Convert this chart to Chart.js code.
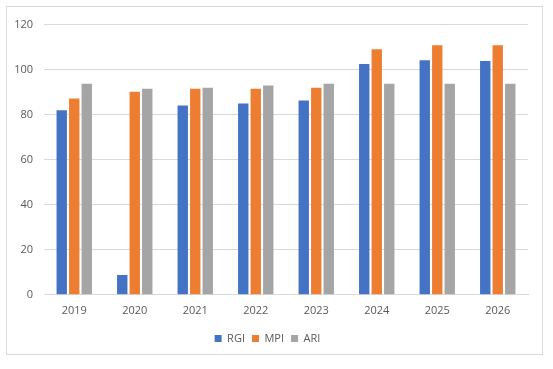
<!DOCTYPE html>
<html lang="en">
<head>
    <meta charset="UTF-8">
    <title>RGI / MPI / ARI</title>
    <script src="https://cdn.jsdelivr.net/npm/chart.js"></script>
    <style>
        html, body { margin: 0; padding: 0; background: #fff; }
        .frame {
            position: absolute;
            left: 6px; top: 6px;
            width: 535px; height: 347px;
            border: 1px solid #d9d9d9;
        }
    </style>
</head>
<body>
    <div class="frame">
        <canvas id="chart" width="535" height="347"></canvas>
    </div>

    <script>
        const years = ['2019', '2020', '2021', '2022', '2023', '2024', '2025', '2026'];
        const rgi = [82, 8.8, 84.1, 85, 86.3, 102.5, 104.2, 103.8];
        const mpi = [87.2, 90.2, 91.5, 91.5, 92, 109, 110.8, 110.8];
        const ari = [93.7, 91.5, 92, 92.9, 93.7, 93.7, 93.7, 93.7];
        const yTicks = [0, 20, 40, 60, 80, 100, 120];

        const font = { family: "'Open Sans', 'Liberation Sans', sans-serif", size: 11 };

        new Chart(document.getElementById('chart'), {
            type: 'bar',
            data: {
                labels: years,
                datasets: [
                    { label: 'RGI', data: rgi, backgroundColor: '#4472C4' },
                    { label: 'MPI', data: mpi, backgroundColor: '#ED7D31' },
                    { label: 'ARI', data: ari, backgroundColor: '#A5A5A5' }
                ]
            },
            options: {
                responsive: false,
                animation: false,
                layout: { padding: { top: 13, right: 14, left: 0, bottom: 0 } },
                datasets: {
                    bar: { categoryPercentage: 0.62, barPercentage: 0.83 }
                },
                scales: {
                    x: {
                        grid: { display: false, drawTicks: false },
                        border: { color: '#d9d9d9' },
                        ticks: { color: '#595959', font: font, padding: 9 }
                    },
                    y: {
                        min: 0,
                        max: 120,
                        afterBuildTicks: s => { s.ticks = yTicks.map(v => ({ value: v })); },
                        afterFit: s => { s.width = 37; },
                        grid: { color: '#d9d9d9', drawTicks: false },
                        border: { display: false },
                        ticks: { color: '#595959', font: font, padding: 11 }
                    }
                },
                plugins: {
                    legend: {
                        position: 'bottom',
                        labels: {
                            color: '#595959',
                            font: font,
                            boxWidth: 7,
                            boxHeight: 7,
                            padding: 7
                        }
                    },
                    tooltip: { enabled: false }
                }
            }
        });
    </script>
</body>
</html>
